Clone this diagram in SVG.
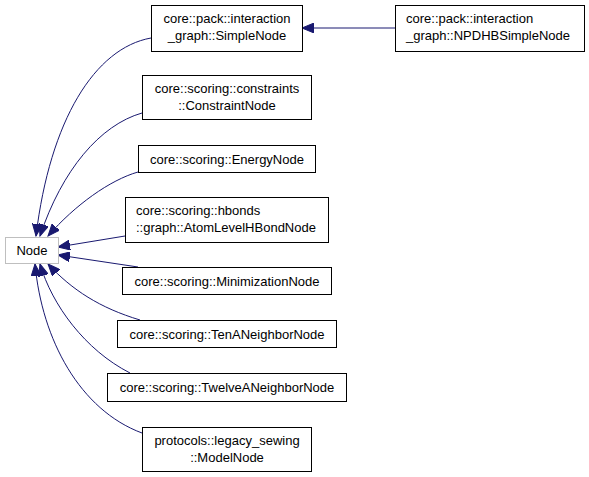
<svg xmlns="http://www.w3.org/2000/svg" width="589" height="477" viewBox="0 0 589 477">
<style>
.box{fill:#fff;stroke:#000;stroke-width:1}
.base{fill:#fff;stroke:#bfbfbf;stroke-width:1}
text{font-family:"Liberation Sans",Arial,sans-serif;font-size:13px;fill:#000}
.c{text-anchor:middle}
.e{fill:none;stroke:#191970;stroke-width:1}
</style>
<defs>
<marker id="ah" markerUnits="userSpaceOnUse" markerWidth="14" markerHeight="10" refX="12" refY="5" orient="auto">
<path d="M0,0 L12,5 L0,10 Z" fill="#191970" stroke="#191970" stroke-width="1"/>
</marker>
</defs>
<rect width="589" height="477" fill="#fff"/>
<g id="connectors">
<path class="e" marker-end="url(#ah)" d="M395,28 L302,28"/>
<path class="e" marker-end="url(#ah)" d="M151,38 C95,48 50,120 36,236"/>
<path class="e" marker-end="url(#ah)" d="M142,113 C100,125 62,170 40,236"/>
<path class="e" marker-end="url(#ah)" d="M138,172 C110,180 75,205 48,236"/>
<path class="e" marker-end="url(#ah)" d="M125,236 L58,247"/>
<path class="e" marker-end="url(#ah)" d="M138,267 L58,255"/>
<path class="e" marker-end="url(#ah)" d="M140,320 C100,308 72,290 48,264"/>
<path class="e" marker-end="url(#ah)" d="M130,373 C85,350 52,305 40,264"/>
<path class="e" marker-end="url(#ah)" d="M142,433 C80,410 42,340 35,264"/>
</g>
<g id="node-simple">
<rect class="box" x="151.5" y="5.5" width="151" height="46"/>
<text class="c" x="227" y="23">core::pack::interaction</text>
<text class="c" x="227" y="40">_graph::SimpleNode</text>
</g>
<g id="node-npdhb">
<rect class="box" x="395.5" y="5.5" width="189" height="46"/>
<text x="406" y="23">core::pack::interaction</text>
<text x="406" y="40">_graph::NPDHBSimpleNode</text>
</g>
<g id="node-constraint">
<rect class="box" x="142.5" y="75.5" width="169" height="44"/>
<text class="c" x="227" y="93">core::scoring::constraints</text>
<text class="c" x="227" y="110">::ConstraintNode</text>
</g>
<g id="node-energy">
<rect class="box" x="138.5" y="145.5" width="177" height="27"/>
<text class="c" x="227" y="164">core::scoring::EnergyNode</text>
</g>
<g id="node-atomlevel">
<rect class="box" x="125.5" y="197.5" width="203" height="45"/>
<text x="136" y="215">core::scoring::hbonds</text>
<text x="136" y="232">::graph::AtomLevelHBondNode</text>
</g>
<g id="node-base">
<rect class="base" x="5.5" y="237.5" width="53" height="26"/>
<text class="c" x="32" y="255">Node</text>
</g>
<g id="node-minimization">
<rect class="box" x="122.5" y="267.5" width="209" height="27"/>
<text class="c" x="227" y="286">core::scoring::MinimizationNode</text>
</g>
<g id="node-tena">
<rect class="box" x="117.5" y="320.5" width="219" height="27"/>
<text class="c" x="227" y="339">core::scoring::TenANeighborNode</text>
</g>
<g id="node-twelvea">
<rect class="box" x="107.5" y="373.5" width="239" height="28"/>
<text class="c" x="227" y="392">core::scoring::TwelveANeighborNode</text>
</g>
<g id="node-model">
<rect class="box" x="142.5" y="427.5" width="169" height="44"/>
<text class="c" x="227" y="445">protocols::legacy_sewing</text>
<text class="c" x="227" y="462">::ModelNode</text>
</g>
</svg>
